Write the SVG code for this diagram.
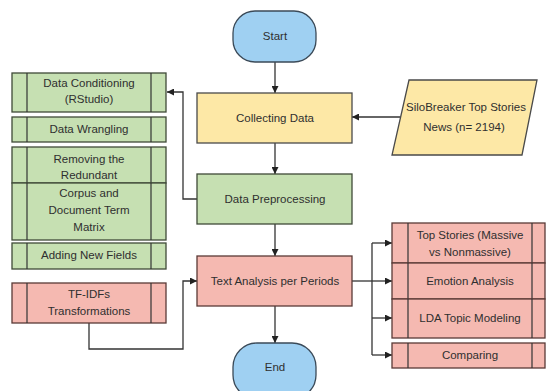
<svg xmlns="http://www.w3.org/2000/svg" width="547" height="391" viewBox="0 0 547 391">
  <defs>
    <marker id="arrow" viewBox="0 0 10 10" refX="10" refY="5" markerWidth="7" markerHeight="7" orient="auto" markerUnits="userSpaceOnUse">
      <path d="M0,0 L10,5 L0,10 z" fill="#222"/>
    </marker>
    <style>
      text { font-family: "Liberation Sans", Arial, sans-serif; font-size: 11.5px; fill: #2f2f2f; text-anchor: middle; }
      .term { fill: #9fd0f2; stroke: #3b4a58; stroke-width: 1.3; }
      .yellow { fill: #fde8a6; stroke: #4a4a4a; stroke-width: 1.3; }
      .green { fill: #c6e0b2; stroke: #3f4a38; stroke-width: 1.3; }
      .pink { fill: #f5b9b1; stroke: #5a3a36; stroke-width: 1.3; }
      .bar { stroke: #333; stroke-width: 1.2; fill: none; }
      .conn { fill: none; stroke: #333; stroke-width: 1.3; }
    </style>
  </defs>
  <rect width="547" height="391" fill="#ffffff"/>

  <!-- connectors -->
  <g id="connectors">
    <line class="conn" x1="275" y1="62" x2="275" y2="93" marker-end="url(#arrow)"/>
    <line class="conn" x1="275" y1="143" x2="275" y2="174" marker-end="url(#arrow)"/>
    <line class="conn" x1="275" y1="224" x2="275" y2="256" marker-end="url(#arrow)"/>
    <line class="conn" x1="275" y1="306" x2="275" y2="343" marker-end="url(#arrow)"/>
    <line class="conn" x1="400" y1="117" x2="352" y2="117" marker-end="url(#arrow)"/>
    <polyline class="conn" points="197,199 183,199 183,92 167,92" marker-end="url(#arrow)"/>
    <polyline class="conn" points="89,323 89,349 183,349 183,281 197,281" marker-end="url(#arrow)"/>
    <line class="conn" x1="352" y1="281" x2="372" y2="281"/>
    <line class="conn" x1="372" y1="243" x2="372" y2="355"/>
    <line class="conn" x1="372" y1="243" x2="392" y2="243" marker-end="url(#arrow)"/>
    <line class="conn" x1="372" y1="281" x2="392" y2="281" marker-end="url(#arrow)"/>
    <line class="conn" x1="372" y1="318" x2="392" y2="318" marker-end="url(#arrow)"/>
    <line class="conn" x1="372" y1="355" x2="392" y2="355" marker-end="url(#arrow)"/>
  </g>

  <!-- main flow -->
  <g id="start">
    <rect class="term" x="233" y="11" width="83" height="51" rx="22" ry="22"/>
    <text x="275" y="40">Start</text>
  </g>
  <g id="collecting">
    <rect class="yellow" x="197" y="93" width="155" height="50"/>
    <text x="275" y="122">Collecting Data</text>
  </g>
  <g id="silobreaker">
    <polygon class="yellow" points="409,80 537,80 522,155 392,155"/>
    <text x="466" y="111">SiloBreaker Top Stories</text>
    <text x="464" y="131">News (n= 2194)</text>
  </g>
  <g id="preprocessing">
    <rect class="green" x="197" y="174" width="155" height="50"/>
    <text x="275" y="203">Data Preprocessing</text>
  </g>
  <g id="text-analysis">
    <rect class="pink" x="197" y="256" width="155" height="50"/>
    <text x="275" y="285">Text Analysis per Periods</text>
  </g>
  <g id="end">
    <rect class="term" x="233" y="343" width="83" height="56" rx="24" ry="24"/>
    <text x="275" y="371">End</text>
  </g>

  <!-- preprocessing steps -->
  <g id="data-conditioning">
    <rect class="green" x="12" y="73" width="154" height="39"/>
    <line class="bar" x1="27" y1="73" x2="27" y2="112"/>
    <line class="bar" x1="151" y1="73" x2="151" y2="112"/>
    <text x="89" y="87">Data Conditioning</text>
    <text x="89" y="103">(RStudio)</text>
  </g>
  <g id="data-wrangling">
    <rect class="green" x="12" y="117" width="154" height="25"/>
    <line class="bar" x1="27" y1="117" x2="27" y2="142"/>
    <line class="bar" x1="151" y1="117" x2="151" y2="142"/>
    <text x="89" y="133">Data Wrangling</text>
  </g>
  <g id="removing-redundant">
    <rect class="green" x="12" y="147" width="154" height="36"/>
    <line class="bar" x1="27" y1="147" x2="27" y2="183"/>
    <line class="bar" x1="151" y1="147" x2="151" y2="183"/>
    <text x="89" y="163">Removing the</text>
    <text x="89" y="179">Redundant</text>
  </g>
  <g id="corpus-dtm">
    <rect class="green" x="12" y="183" width="154" height="57"/>
    <line class="bar" x1="27" y1="183" x2="27" y2="240"/>
    <line class="bar" x1="151" y1="183" x2="151" y2="240"/>
    <text x="89" y="197">Corpus and</text>
    <text x="89" y="214">Document Term</text>
    <text x="89" y="231">Matrix</text>
  </g>
  <g id="adding-fields">
    <rect class="green" x="12" y="243" width="154" height="26"/>
    <line class="bar" x1="27" y1="243" x2="27" y2="269"/>
    <line class="bar" x1="151" y1="243" x2="151" y2="269"/>
    <text x="89" y="259">Adding New Fields</text>
  </g>
  <g id="tf-idf">
    <rect class="pink" x="12" y="283" width="154" height="40"/>
    <line class="bar" x1="27" y1="283" x2="27" y2="323"/>
    <line class="bar" x1="151" y1="283" x2="151" y2="323"/>
    <text x="89" y="298">TF-IDFs</text>
    <text x="89" y="315">Transformations</text>
  </g>

  <!-- analysis steps -->
  <g id="top-stories">
    <rect class="pink" x="392" y="223" width="153" height="40"/>
    <line class="bar" x1="408" y1="223" x2="408" y2="263"/>
    <line class="bar" x1="532" y1="223" x2="532" y2="263"/>
    <text x="470" y="239">Top Stories (Massive</text>
    <text x="470" y="256">vs Nonmassive)</text>
  </g>
  <g id="emotion">
    <rect class="pink" x="392" y="263" width="153" height="36"/>
    <line class="bar" x1="408" y1="263" x2="408" y2="299"/>
    <line class="bar" x1="532" y1="263" x2="532" y2="299"/>
    <text x="470" y="285">Emotion Analysis</text>
  </g>
  <g id="lda">
    <rect class="pink" x="392" y="299" width="153" height="39"/>
    <line class="bar" x1="408" y1="299" x2="408" y2="338"/>
    <line class="bar" x1="532" y1="299" x2="532" y2="338"/>
    <text x="470" y="322">LDA Topic Modeling</text>
  </g>
  <g id="comparing">
    <rect class="pink" x="392" y="343" width="153" height="25"/>
    <line class="bar" x1="408" y1="343" x2="408" y2="368"/>
    <line class="bar" x1="532" y1="343" x2="532" y2="368"/>
    <text x="470" y="359">Comparing</text>
  </g>
</svg>
